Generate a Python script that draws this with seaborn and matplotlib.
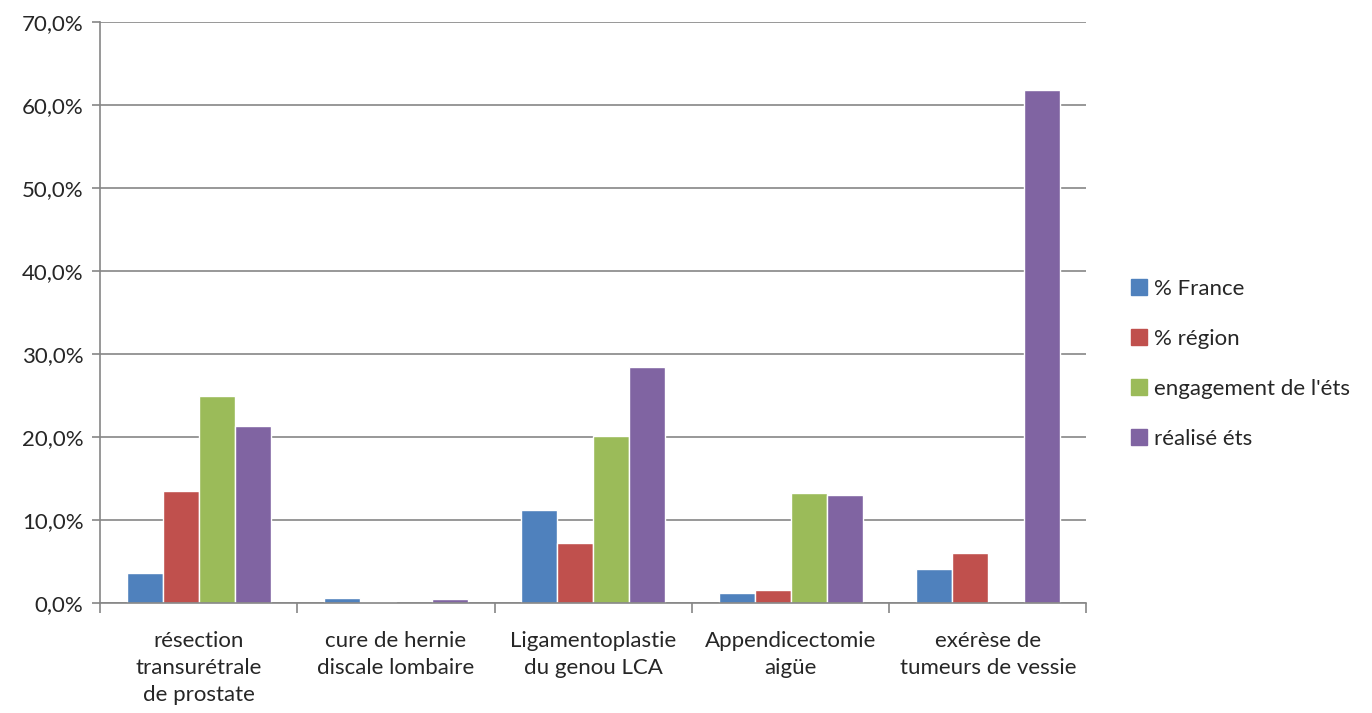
import numpy as np
import pandas as pd
import seaborn as sns
import matplotlib.pyplot as plt
from matplotlib.ticker import FuncFormatter, FixedLocator

# data (percent)
categories = ["résection\ntransurétrale\nde prostate", "cure de hernie\ndiscale lombaire",
              "Ligamentoplastie\ndu genou LCA", "Appendicectomie\naigüe", "exérèse de\ntumeurs de vessie"]
series = ["% France", "% région", "engagement de l'éts", "réalisé éts"]
pct_france = [3.6, 0.6, 11.2, 1.2, 4.1]
pct_region = [13.5, 0.15, 7.3, 1.6, 6.0]
engagement = [25.0, 0.0, 20.1, 13.3, 0.0]
realise = [21.3, 0.45, 28.5, 13.0, 61.8]

colors = ["#4F81BD", "#C0504D", "#9BBB59", "#8064A2"]

df = pd.DataFrame({
    "cat": categories * 4,
    "serie": np.repeat(series, len(categories)),
    "val": pct_france + pct_region + engagement + realise,
})

sns.set_style("white")
plt.rcParams['font.family'] = ['Lato', 'DejaVu Sans']

fig = plt.figure(figsize=(13.72, 7.13), dpi=100)
ax = fig.add_axes([0.0729, 0.154, 0.719, 0.815])

sns.barplot(data=df, x="cat", y="val", hue="serie", palette=colors,
            width=0.73, gap=0, ax=ax, saturation=1, legend=True)

ax.set_ylim(0, 70)
ax.set_xlim(-0.5, len(categories) - 0.5)
ax.set_yticks(np.arange(0, 71, 10))
ax.yaxis.set_major_formatter(FuncFormatter(lambda v, p: f"{v:.1f}%".replace(".", ",")))
ax.grid(axis="y", color="#868686", linewidth=1.2)
ax.set_axisbelow(True)
ax.set_xlabel("")
ax.set_ylabel("")

for s in ["top", "right"]:
    ax.spines[s].set_visible(False)
for s in ["left", "bottom"]:
    ax.spines[s].set_color("#868686")
    ax.spines[s].set_linewidth(1.2)

ax.tick_params(axis="y", length=6, width=1.2, color="#868686", labelsize=16, pad=6, left=True)
ax.tick_params(axis="x", which="major", length=0, labelsize=16, pad=20)
for lbl in ax.get_xticklabels():
    lbl.set_linespacing(1.45)
ax.xaxis.set_minor_locator(FixedLocator(np.arange(-0.5, len(categories), 1)))
ax.tick_params(axis="x", which="minor", length=7, width=1.2, color="#868686", bottom=True)

ax.legend_.remove()
handles = [plt.Rectangle((0, 0), 1, 1, color=c) for c in colors]
fig.legend(handles, series, loc="center left", bbox_to_anchor=(0.81, 0.49),
           frameon=False, fontsize=16, handlelength=0.7, handleheight=0.7,
           handletextpad=0.3, labelspacing=1.35)

fig.savefig("out.png", dpi=100)
